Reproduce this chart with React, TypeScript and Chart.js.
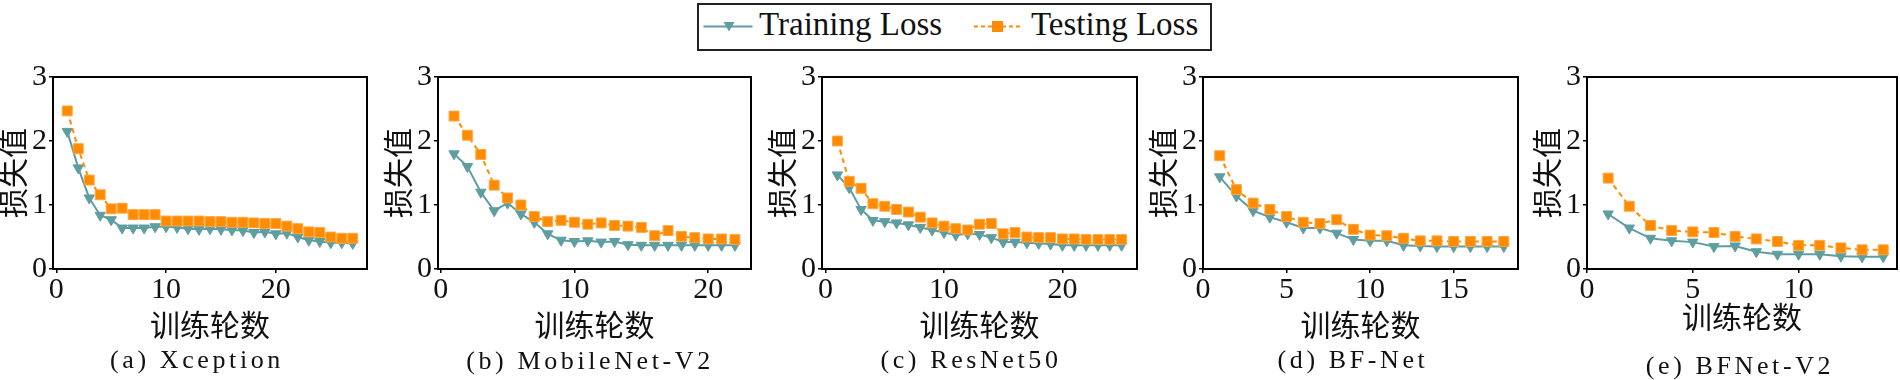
import React, { useEffect, useRef } from "react";
import { Chart, registerables } from "chart.js";

Chart.register(...registerables);

// ---------------- data ----------------
const Y_TICKS = [0, 1, 2, 3];

const EPOCHS_A = [1, 2, 3, 4, 5, 6, 7, 8, 9, 10, 11, 12, 13, 14, 15, 16, 17, 18, 19, 20, 21, 22, 23, 24, 25, 26, 27];
const TRAIN_A = [2.15, 1.58, 1.11, 0.84, 0.77, 0.64, 0.64, 0.64, 0.66, 0.66, 0.65, 0.63, 0.62, 0.63, 0.62, 0.61, 0.6, 0.57, 0.58, 0.55, 0.56, 0.5, 0.45, 0.43, 0.41, 0.41, 0.4];
const TEST_A = [2.47, 1.88, 1.39, 1.16, 0.94, 0.95, 0.85, 0.85, 0.85, 0.75, 0.75, 0.75, 0.75, 0.74, 0.74, 0.73, 0.73, 0.72, 0.71, 0.71, 0.67, 0.63, 0.58, 0.57, 0.5, 0.48, 0.48];
const X_TICKS_A = [0, 10, 20];

const EPOCHS_B = [1, 2, 3, 4, 5, 6, 7, 8, 9, 10, 11, 12, 13, 14, 15, 16, 17, 18, 19, 20, 21, 22];
const TRAIN_B = [1.8, 1.6, 1.2, 0.91, 1.03, 0.86, 0.73, 0.55, 0.45, 0.43, 0.44, 0.42, 0.43, 0.38, 0.37, 0.37, 0.37, 0.37, 0.37, 0.37, 0.37, 0.37];
const TEST_B = [2.39, 2.09, 1.79, 1.31, 1.11, 1.0, 0.82, 0.74, 0.76, 0.73, 0.7, 0.72, 0.68, 0.67, 0.65, 0.52, 0.6, 0.51, 0.49, 0.47, 0.47, 0.46];
const X_TICKS_B = [0, 10, 20];

const EPOCHS_C = [1, 2, 3, 4, 5, 6, 7, 8, 9, 10, 11, 12, 13, 14, 15, 16, 17, 18, 19, 20, 21, 22, 23, 24, 25];
const TRAIN_C = [1.47, 1.27, 0.93, 0.76, 0.74, 0.72, 0.69, 0.65, 0.61, 0.57, 0.53, 0.55, 0.54, 0.49, 0.42, 0.42, 0.41, 0.4, 0.39, 0.37, 0.37, 0.37, 0.37, 0.37, 0.37];
const TEST_C = [2.0, 1.37, 1.26, 1.02, 0.98, 0.93, 0.89, 0.81, 0.72, 0.67, 0.63, 0.61, 0.7, 0.71, 0.55, 0.57, 0.5, 0.49, 0.49, 0.47, 0.47, 0.46, 0.46, 0.46, 0.46];
const X_TICKS_C = [0, 10, 20];

const EPOCHS_D = [1, 2, 3, 4, 5, 6, 7, 8, 9, 10, 11, 12, 13, 14, 15, 16, 17, 18];
const TRAIN_D = [1.44, 1.14, 0.91, 0.81, 0.73, 0.64, 0.64, 0.56, 0.46, 0.44, 0.44, 0.37, 0.36, 0.35, 0.35, 0.35, 0.35, 0.35];
const TEST_D = [1.77, 1.24, 1.03, 0.93, 0.82, 0.73, 0.71, 0.77, 0.62, 0.53, 0.52, 0.48, 0.44, 0.44, 0.43, 0.43, 0.43, 0.43];
const X_TICKS_D = [0, 5, 10, 15];

const EPOCHS_E = [1, 2, 3, 4, 5, 6, 7, 8, 9, 10, 11, 12, 13, 14];
const TRAIN_E = [0.86, 0.64, 0.48, 0.44, 0.42, 0.35, 0.36, 0.27, 0.23, 0.23, 0.23, 0.2, 0.19, 0.19];
const TEST_E = [1.42, 0.98, 0.68, 0.6, 0.58, 0.57, 0.51, 0.47, 0.43, 0.37, 0.37, 0.33, 0.3, 0.3];
const X_TICKS_E = [0, 5, 10];

const SERIES_NAMES = ["Training Loss", "Testing Loss"];
const X_TITLE = "训练轮数";
const Y_TITLE = "损失值";

// ---------------- layout / style ----------------
const TRAIN_COLOR = "#5f9ea0";
const TEST_COLOR = "#ff8c00";
const SERIF = "'Liberation Serif', serif";
const CJK = "'Noto Sans CJK SC', sans-serif";

const CANVAS_TOP = 60;
const CANVAS_H = 287;
const Y_BOX_W = 55;
const X_BOX_H = 78;
const PAD_TOP = 16;

const PANELS = [
  { caption: "(a) Xception", epochs: EPOCHS_A, train: TRAIN_A, test: TEST_A, xTicks: X_TICKS_A, xMin: -0.3, xMax: 28.3, plotLeft: 53, plotRight: 367, capX: 197, capY: 347, titlePad: 7 },
  { caption: "(b) MobileNet-V2", epochs: EPOCHS_B, train: TRAIN_B, test: TEST_B, xTicks: X_TICKS_B, xMin: -0.2, xMax: 23.2, plotLeft: 438, plotRight: 751, capX: 590, capY: 348, titlePad: 7 },
  { caption: "(c) ResNet50", epochs: EPOCHS_C, train: TRAIN_C, test: TEST_C, xTicks: X_TICKS_C, xMin: -0.3, xMax: 26.3, plotLeft: 822, plotRight: 1137, capX: 971, capY: 347, titlePad: 7 },
  { caption: "(d) BF-Net", epochs: EPOCHS_D, train: TRAIN_D, test: TEST_D, xTicks: X_TICKS_D, xMin: 0, xMax: 18.85, plotLeft: 1203, plotRight: 1518, capX: 1353, capY: 347, titlePad: 7 },
  { caption: "(e) BFNet-V2", epochs: EPOCHS_E, train: TRAIN_E, test: TEST_E, xTicks: X_TICKS_E, xMin: 0, xMax: 14.65, plotLeft: 1587, plotRight: 1897, capX: 1740, capY: 353, titlePad: 15 },
];

const frameBox = {
  id: "frameBox",
  afterDraw(chart: any) {
    const { ctx, chartArea } = chart;
    ctx.save();
    ctx.strokeStyle = "#000";
    ctx.lineWidth = 2;
    ctx.strokeRect(chartArea.left, chartArea.top, chartArea.right - chartArea.left, chartArea.bottom - chartArea.top);
    ctx.restore();
  },
};

function Panel({ p }: { p: any }) {
  const ref = useRef<HTMLCanvasElement | null>(null);
  const left = p.plotLeft - Y_BOX_W;
  const width = p.plotRight - left + 8;
  useEffect(() => {
    const canvas = ref.current;
    if (!canvas) return;
    const chart = new Chart(canvas, {
      type: "line",
      data: {
        datasets: [
          {
            label: SERIES_NAMES[1],
            data: p.epochs.map((e: number, i: number) => ({ x: e, y: p.test[i] })),
            borderColor: TEST_COLOR,
            backgroundColor: TEST_COLOR,
            borderWidth: 2,
            borderDash: [5, 4],
            pointStyle: "rect",
            pointRadius: 7,
            pointBackgroundColor: TEST_COLOR,
            pointBorderColor: "#ffa640",
            pointBorderWidth: 1,
            tension: 0,
          },
          {
            label: SERIES_NAMES[0],
            data: p.epochs.map((e: number, i: number) => ({ x: e, y: p.train[i] })),
            borderColor: TRAIN_COLOR,
            backgroundColor: TRAIN_COLOR,
            borderWidth: 2,
            pointStyle: "triangle",
            pointRotation: 180,
            pointRadius: 6,
            pointBackgroundColor: TRAIN_COLOR,
            pointBorderColor: TRAIN_COLOR,
            pointBorderWidth: 1,
            tension: 0,
          },
        ],
      },
      options: {
        animation: false,
        responsive: false,
        maintainAspectRatio: false,
        devicePixelRatio: 1,
        layout: { padding: { top: PAD_TOP, right: 8, bottom: 0, left: 0 } },
        plugins: { legend: { display: false }, tooltip: { enabled: false }, title: { display: false } },
        scales: {
          x: {
            type: "linear",
            min: p.xMin,
            max: p.xMax,
            afterBuildTicks: (s: any) => {
              s.ticks = p.xTicks.map((v: number) => ({ value: v }));
            },
            afterFit: (s: any) => {
              s.height = X_BOX_H;
            },
            grid: { drawOnChartArea: false, drawTicks: true, tickLength: 4, color: "#000", lineWidth: 1.5 },
            border: { display: false },
            ticks: { font: { family: SERIF, size: 30, lineHeight: 1 }, color: "#111", padding: 2, maxRotation: 0, autoSkip: false },
            title: { display: true, text: X_TITLE, font: { family: CJK, size: 30, lineHeight: 1 }, color: "#111", padding: { top: 0, bottom: p.titlePad } },
          },
          y: {
            type: "linear",
            min: 0,
            max: 3,
            afterBuildTicks: (s: any) => {
              s.ticks = Y_TICKS.map((v: number) => ({ value: v }));
            },
            afterFit: (s: any) => {
              s.width = Y_BOX_W;
            },
            grid: { drawOnChartArea: false, drawTicks: true, tickLength: 4, color: "#000", lineWidth: 1.5 },
            border: { display: false },
            ticks: { font: { family: SERIF, size: 30, lineHeight: 1 }, color: "#111", padding: 2 },
            title: { display: true, text: Y_TITLE, font: { family: CJK, size: 30, lineHeight: 1 }, color: "#111", padding: { top: 0, bottom: 0 } },
          },
        },
      },
      plugins: [frameBox],
    } as any);
    let alive = true;
    const fonts: any = (document as any).fonts;
    if (fonts && fonts.load) {
      Promise.all([
        fonts.load("30px 'Liberation Serif'"),
        fonts.load("30px 'Noto Sans CJK SC'", "训练轮数损失值"),
      ])
        .then(() => {
          if (alive) chart.update("none");
        })
        .catch(() => {});
      fonts.ready.then(() => {
        if (alive) chart.update("none");
      });
    }
    return () => {
      alive = false;
      chart.destroy();
    };
  }, []);
  return (
    <>
      <canvas
        ref={ref}
        width={width}
        height={CANVAS_H}
        style={{ position: "absolute", left, top: CANVAS_TOP, width, height: CANVAS_H }}
      />
      <div
        style={{
          position: "absolute",
          left: p.capX - 150,
          width: 300,
          top: p.capY,
          textAlign: "center",
          fontFamily: SERIF,
          fontSize: 26,
          lineHeight: "26px",
          letterSpacing: "3.6px",
          color: "#111",
          whiteSpace: "nowrap",
        }}
      >
        {p.caption}
      </div>
    </>
  );
}

function Legend() {
  return (
    <div
      style={{
        position: "absolute",
        left: 697,
        top: 3,
        width: 515,
        height: 48,
        boxSizing: "border-box",
        border: "2px solid #222",
        background: "#fff",
      }}
    >
      <svg width={511} height={44} style={{ position: "absolute", left: 0, top: 0 }}>
        <line x1={4.5} y1={21.5} x2={53.5} y2={21.5} stroke={TRAIN_COLOR} strokeWidth={2} />
        <polygon points="24.5,17 35.5,17 30,26.5" fill={TRAIN_COLOR} />
        <line x1={275} y1={21.5} x2={322} y2={21.5} stroke={TEST_COLOR} strokeWidth={2} strokeDasharray="4 3" />
        <rect x={293} y={16} width={11} height={11} fill={TEST_COLOR} />
      </svg>
      <span style={{ position: "absolute", left: 60, top: 3, fontFamily: SERIF, fontSize: 33, lineHeight: "33px", color: "#111", whiteSpace: "nowrap" }}>
        {SERIES_NAMES[0]}
      </span>
      <span style={{ position: "absolute", left: 332, top: 3, fontFamily: SERIF, fontSize: 33, lineHeight: "33px", color: "#111", whiteSpace: "nowrap" }}>
        {SERIES_NAMES[1]}
      </span>
    </div>
  );
}

export default function App() {
  return (
    <div style={{ position: "absolute", left: 0, top: 0, width: 1900, height: 380, overflow: "hidden", background: "#fff" }}>
      <Legend />
      {PANELS.map((p) => (
        <Panel key={p.caption} p={p} />
      ))}
    </div>
  );
}
